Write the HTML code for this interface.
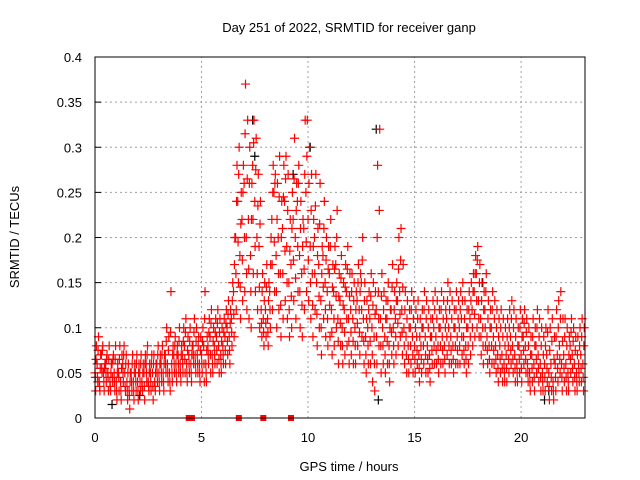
<!DOCTYPE html>
<html><head><meta charset="utf-8"><style>
body{margin:0;background:#fff}
svg{display:block;font-family:"Liberation Sans",sans-serif}
</style></head><body>
<svg id="chart" width="640" height="480" viewBox="0 0 640 480">
<rect width="640" height="480" fill="#fff"/>
<text x="349" y="32" text-anchor="middle" font-size="13">Day 251 of 2022, SRMTID for receiver ganp</text>
<g id="grid"></g>
<g id="ticks"></g>
<g id="marks"></g>
<rect x="95" y="57" width="490" height="361" fill="none" stroke="#000" stroke-width="1"/>
<text x="349" y="471" text-anchor="middle" font-size="13">GPS time / hours</text>
<text transform="translate(19,237) rotate(-90)" text-anchor="middle" font-size="13">SRMTID / TECUs</text>
</svg>
<script>
// values in hundredths of TECU, sampled every 0.1 h from 0 to 22.9
const loVals=[3,4,3,5,3,4,3,3,4,3, 2,3,2,4,3,2,1,3,2,3, 2,3,3,2,4,3,3,2,3,4, 3,4,3,5,4,3,4,5,4,5, 4,5,5,4,5,4,6,5,5,4, 5,4,4,6,5,5,6,6,5,5, 6,6,7,6,8,9,12,15,11,13, 14,12,11,10,16,14,12,10,9,8, 9,8,10,12,14,10,12,9,11,13, 11,9,10,13,11,14,10,9,12,14, 13,11,9,12,8,10,7,11,9,8, 9,7,8,10,6,8,6,7,8,6, 7,6,6,8,7,9,6,5,6,6, 4,3,6,8,5,6,5,6,4,7, 6,7,8,9,7,6,5,5,6,5, 5,6,4,5,6,5,5,4,6,6, 6,5,6,6,5,7,6,6,5,6, 6,6,7,6,5,6,7,8,9,10, 9,7,6,8,6,5,6,6,5,4, 5,4,4,4,5,6,5,4,4,5, 4,6,5,4,3,4,3,5,4,3, 3,3,4,2,3,2,3,4,5,3, 4,3,3,5,4,3,3,4,4,3];
const q1Vals=[4.5,4.5,3.5,5.5,4,5,4.5,3.5,4.5,4, 3,4.5,3,5,3.5,3,2.5,4,3,4, 3,4,3.5,3.5,5,3.5,4,3.5,3.5,5, 4,5,4,6,5,4,5,6,5,6, 5,6,6.5,5,6,5,7,6,6,5, 6,6,5,7,7,6,7,7.5,6.5,6, 7,7.5,8.5,7.5,9.5,11.5,16,19.5,14.5,17.5, 20,16,16.5,14,22,19,16,14.5,10.5,9.5, 10.5,9.5,12,17,19.5,14,16,12.5,16,18.5, 15,12,13.5,17.5,15.5,19,14,12.5,16.5,19.5, 17.5,15,12.5,16,11.5,13.5,10,14.5,12,11, 12.5,9.5,11,13.5,8.5,10.5,8,9.5,11,8.5, 9.5,8.5,8,10.5,9.5,12,8.5,7,8,8.5, 7,6,9,11,8,8,7,8.5,6,9.5, 8,9,10.5,11.5,9.5,8,7,6.5,8,7, 6.5,7.5,5.5,6.5,8,7,6.5,5.5,7.5,8, 7.5,6.5,8,7.5,6.5,9,8,7.5,6.5,8, 7.5,8,9,7.5,6.5,8,9,10,11.5,13, 11,9,8,10,7.5,6.5,8,7.5,6.5,5.5, 6.5,5.5,5,5.5,6.5,7.5,6.5,5.5,5,6.5, 5.5,7.5,6.5,5,4,5.5,4.5,6.5,5.5,4.5, 4,4.5,5.5,3.5,4.5,3,4.5,5.5,6.5,4.5, 5.5,4.5,4,6.5,5.5,4.5,4,5,5.5,4.5];
const midVals=[5,6,4,7,5,6,5,4,6,5, 4,5,4,6,5,4,3,5,4,5, 4,5,4,5,6,4,5,5,4,6, 5,6,5,7,6,5,6,7,6,7, 6,7,8,6,7,6,8,7,7,6, 7,8,6,8,9,7,8,9,8,7, 8,9,10,9,11,14,20,24,18,22, 26,20,22,18,28,24,20,19,12,11, 12,11,14,22,25,18,20,16,21,24, 19,15,17,22,20,24,18,16,21,25, 22,19,16,20,15,17,13,18,15,14, 16,12,14,17,11,13,10,12,14,11, 12,11,10,13,12,15,11,9,10,11, 10,9,12,14,11,10,9,11,8,12, 10,11,13,14,12,10,9,8,10,9, 8,9,7,8,10,9,8,7,9,10, 9,8,10,9,8,11,10,9,8,10, 9,10,11,9,8,10,11,12,14,16, 13,11,10,12,9,8,10,9,8,7, 8,7,6,7,8,9,8,7,6,8, 7,9,8,6,5,7,6,8,7,6, 5,6,7,5,6,4,6,7,8,6, 7,6,5,8,7,6,5,6,7,6];
const q3Vals=[6.5,7.5,5.5,7.5,5.5,6.5,6.5,5,6.5,6.5, 5,6.5,5.5,7,6,5,4,6,5,6, 5,6,5,6,7,5,6,6,5,7, 6,7,6,8.5,7.5,9.5,7,8,7,8.5, 7,8.5,9.5,7.5,8.5,7,9.5,8.5,8,7.5, 8.5,11,7.5,9.5,10.5,8.5,9.5,10.5,9.5,8.5, 9.5,10.5,11.5,10.5,13,17,24,27,21.5,25, 31.5,26.5,26,22,30.5,27.5,23.5,21.5,14,13, 14.5,13,17,25,26,22,24.5,20,24.5,26.5, 23,18.5,21,26.5,23,26,21,19,27,29, 26,23,19,23.5,18,21.5,16,21,17.5,16.5, 19,14.5,16.5,20,13.5,15.5,12.5,14.5,16.5,13.5, 14,13,12,15,14,17.5,13,11,12,13.5, 12.5,11.5,20,23,13.5,12,11,13,10,14.5, 12,13,16.5,17.5,14.5,12,11,10,12,11, 10,11,9,10,12,11,10,9,11,12, 11,10,12,11,10,13,12,11,10,12, 11,12,13,11,10,12,13,14,16,17.5, 15,13,12,14,11,10,12,11,10,9, 10,9,8,9,10,11,10,9,8,10, 9,10.5,9.5,8,7,9,8,10,9,8, 7,8,9.5,7.5,8.5,6.5,9,10,11,8.5, 9,8,7,9.5,8.5,7.5,7,8,9,8];
const hiVals=[8,9,7,8,6,7,8,6,7,8, 6,8,7,8,7,6,5,7,6,7, 6,7,6,7,8,6,7,7,6,8, 7,8,7,10,9,14,8,9,8,10, 8,10,11,9,10,8,11,10,9,9, 10,14,9,11,12,10,11,12,11,10, 11,12,13,12,15,20,28,30,25,28, 37,33,30,26,33,31,27,24,16,15, 17,15,20,28,27,26,29,24,28,29, 27,22,25,31,26,28,24,22,33,33, 30,27,22,27,21,26,19,24,20,19, 22,17,19,23,16,18,15,17,19,16, 16,15,14,17,16,20,15,13,14,16, 15,14,28,32,16,14,13,15,12,17, 14,15,20,21,17,14,13,12,14,13, 12,13,11,12,14,13,12,11,13,14, 13,12,14,13,12,15,14,13,12,14, 13,14,15,13,12,14,15,16,18,19, 17,15,14,16,13,12,14,13,12,11, 12,11,10,11,12,13,12,11,10,12, 11,12,11,10,9,11,10,12,11,10, 9,10,12,10,11,9,12,13,14,11, 11,10,9,11,10,9,9,10,11,10];
const blackHours=[0.8,2.1,7.4,7.5,9.3,10.1,13.2,13.3,18.2,21.1,21.3];
const blackVals=[1.5,2.5,33,29,27,30,32,2,15,2,3];
const gapHours=[4.4,4.55,6.75,7.9,9.2];
const xTicks=[0,5,10,15,20];
const yTicks=[0,0.05,0.1,0.15,0.2,0.25,0.3,0.35,0.4];
const yTickLabels=["0","0.05","0.1","0.15","0.2","0.25","0.3","0.35","0.4"];

const NS="http://www.w3.org/2000/svg";
const X0=95,X1=585,Y0=418,Y1=57,XMAX=23,YMAX=0.4;
const xs=h=>X0+h/XMAX*(X1-X0);
const ys=v=>Y0-v/YMAX*(Y0-Y1);
const grid=document.getElementById('grid'),ticks=document.getElementById('ticks'),marks=document.getElementById('marks');
function mk(tag,attrs,parent){const e=document.createElementNS(NS,tag);for(const k in attrs)e.setAttribute(k,attrs[k]);parent.appendChild(e);return e;}
yTicks.forEach((v,i)=>{const y=ys(v);
 if(i>0&&i<yTicks.length-1){const l=mk('line',{x1:X0,x2:X1,y1:y,y2:y,stroke:'#a0a0a0','stroke-dasharray':'2,3'},grid);
 
 }
 const t=mk('line',{x1:X0,x2:X0+6,y1:y,y2:y,stroke:'#000'},grid);
 
 
 const tx=mk('text',{x:82,y:y+5,'text-anchor':'end','font-size':'13'},ticks);tx.textContent=yTickLabels[i];
 
 });
xTicks.forEach(h=>{const x=xs(h);
 if(h>0){const l=mk('line',{x1:x,x2:x,y1:Y0,y2:Y1,stroke:'#a0a0a0','stroke-dasharray':'2,3'},grid);
 
 }
 const tx=mk('text',{x:x,y:442,'text-anchor':'middle','font-size':'13'},ticks);tx.textContent=String(h);
 
 });
function plus(h,v,color,name){const x=xs(h),y=ys(v);
 const p=mk('path',{d:`M${x-4.5},${y}h9M${x},${y-4.5}v9`,stroke:color,'stroke-width':'1.2',fill:'none'},marks);
 
 }
blackHours.forEach((h,i)=>plus(h,blackVals[i]/100,'#000','black-point'));
const offs=[0.03,0.015,0,0.045,0.065];
[loVals,q1Vals,midVals,q3Vals,hiVals].forEach((arr,s)=>arr.forEach((v,i)=>plus(i*0.1+offs[s],v/100,'#ff0000','red-point')));
gapHours.forEach(h=>{const r=mk('rect',{x:xs(h)-3,y:Y0-3,width:6,height:6,fill:'#ff0000'},marks);
 
 });
</script>
</body></html>
